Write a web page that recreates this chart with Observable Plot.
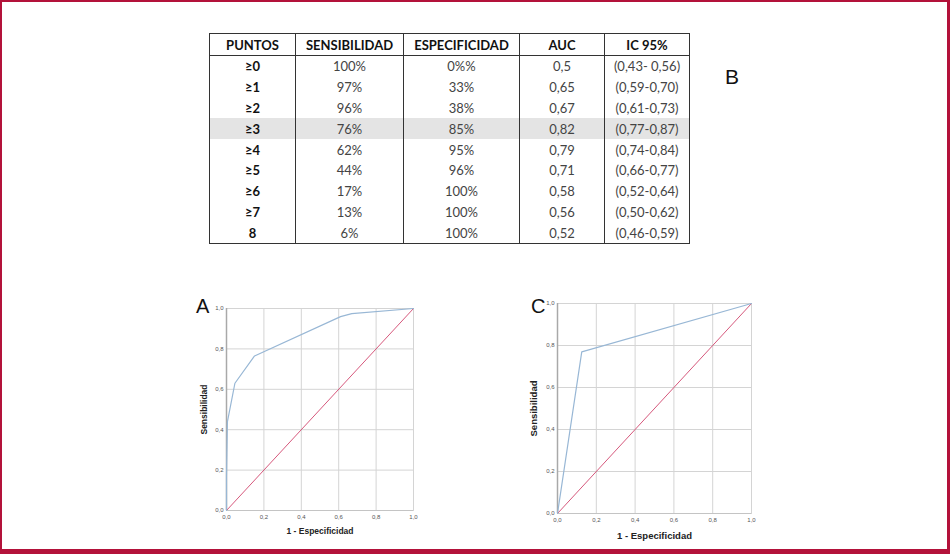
<!DOCTYPE html>
<html>
<head>
<meta charset="utf-8">
<script src="https://cdn.jsdelivr.net/npm/d3@7"></script>
<script src="https://cdn.jsdelivr.net/npm/@observablehq/plot@0.6"></script>
<style>
  html, body { margin: 0; padding: 0; background: #fff; }
  #fig { position: relative; width: 950px; height: 554px; overflow: hidden; background: #fff; }
  #edge { position: absolute; left: 0; top: 0; width: 950px; height: 554px; box-sizing: border-box;
          border: 2px solid #b3123a; border-bottom-width: 5px; border-right-width: 3px; pointer-events: none; }
  .panel { position: absolute; }
  .letter { position: absolute; font-family: "Liberation Sans", Arial, sans-serif; font-size: 20px; color: #111; line-height: 1; }
  table.score { position: absolute; left: 209px; top: 33px; border-collapse: collapse;
                font-family: Lato, "Open Sans", sans-serif; font-size: 13px; color: #444; }
  table.score th, table.score td { padding: 0; text-align: center; border-left: 1px solid #333; border-right: 1px solid #333; }
  table.score th { height: 21px; font-weight: 700; color: #111; border-top: 1px solid #333; border-bottom: 1px solid #333; }
  table.score td { height: 20.8px; }
  table.score tr:last-child td { border-bottom: 1px solid #333; }
  table.score td.pts { font-weight: 700; color: #111; }
  table.score tr.hl td { background: #e4e4e4; }
</style>
</head>
<body>
<div id="fig">
  <table class="score" id="score"></table>
  <div class="letter" style="left:725px; top:66px; font-size:21px;">B</div>
  <div class="panel" id="rocA" style="left:170px; top:290px;"></div>
  <div class="panel" id="rocC" style="left:500px; top:285px;"></div>
  <div class="letter" style="left:196px; top:296px;">A</div>
  <div class="letter" style="left:531px; top:296px;">C</div>
  <div id="edge"></div>
</div>
<script>
// Score cut-offs and their diagnostic performance
const columns = ["PUNTOS", "SENSIBILIDAD", "ESPECIFICIDAD", "AUC", "IC 95%"];
const columnWidths = [86, 108, 116, 85, 85];
const puntos = ["≥0", "≥1", "≥2", "≥3", "≥4", "≥5", "≥6", "≥7", "8"];
const sensibilidad = ["100%", "97%", "96%", "76%", "62%", "44%", "17%", "13%", "6%"];
const especificidad = ["0%%", "33%", "38%", "85%", "95%", "96%", "100%", "100%", "100%"];
const auc = ["0,5", "0,65", "0,67", "0,82", "0,79", "0,71", "0,58", "0,56", "0,52"];
const ic95 = ["(0,43- 0,56)", "(0,59-0,70)", "(0,61-0,73)", "(0,77-0,87)", "(0,74-0,84)",
              "(0,66-0,77)", "(0,52-0,64)", "(0,50-0,62)", "(0,46-0,59)"];
const highlighted = "≥3";

// ROC curve of the full score (A)
const fprA = [0, 0, 0, 0, 0.005, 0.045, 0.15, 0.61, 0.67, 1];
const tprA = [0, 0.06, 0.13, 0.17, 0.44, 0.63, 0.765, 0.96, 0.975, 1];
// ROC curve of the dichotomised score (C)
const fprC = [0, 0.125, 1];
const tprC = [0, 0.77, 1];
// Reference diagonal and axis ticks
const diag = [0, 1];
const ticks = [0, 0.2, 0.4, 0.6, 0.8, 1.0];

// Table
const table = d3.select("#score");
table.append("colgroup").selectAll("col").data(columnWidths).join("col").style("width", d => d + "px");
table.append("thead").append("tr").selectAll("th").data(columns).join("th").text(d => d);
const rows = puntos.map((p, i) => [p, sensibilidad[i], especificidad[i], auc[i], ic95[i]]);
table.append("tbody").selectAll("tr").data(rows).join("tr")
  .classed("hl", d => d[0] === highlighted)
  .selectAll("td").data(d => d).join("td")
  .classed("pts", (d, j) => j === 0)
  .text(d => d);

const fmt = d => d.toFixed(1).replace(".", ",");

function roc(fpr, tpr, opts) {
  const curve = fpr.map((x, i) => ({x, y: tpr[i]}));
  const ref = diag.map(v => ({x: v, y: v}));
  return Plot.plot({
    width: opts.width, height: opts.height,
    marginLeft: opts.ml, marginRight: opts.mr, marginTop: opts.mt, marginBottom: opts.mb,
    style: {fontFamily: "'Liberation Sans', Arial, sans-serif", background: "transparent", overflow: "visible"},
    x: {domain: [0, 1]},
    y: {domain: [0, 1]},
    marks: [
      Plot.gridX(ticks, {stroke: "#d4d4d4", strokeOpacity: 1}),
      Plot.gridY(ticks, {stroke: "#d4d4d4", strokeOpacity: 1}),
      Plot.frame({stroke: "#d4d4d4"}),
      Plot.ruleX([0], {stroke: "#a9a9a9", strokeWidth: 1.5}),
      Plot.ruleY([0], {stroke: "#c4c4c4"}),
      Plot.axisX(ticks, {tickSize: 0, tickPadding: 4, fontSize: 6, fill: "#555", tickFormat: fmt,
        label: "1 - Especificidad", labelAnchor: "center", labelArrow: "none", labelOffset: opts.xlo}),
      Plot.axisY(ticks, {tickSize: 0, tickPadding: 3, fontSize: 6, fill: "#555", tickFormat: fmt,
        label: "Sensibilidad", labelAnchor: "center", labelArrow: "none", labelOffset: opts.ylo}),
      Plot.line(ref, {x: "x", y: "y", stroke: "#d6587c", strokeWidth: 1}),
      Plot.line(curve, {x: "x", y: "y", stroke: "#98b7d5", strokeWidth: 1.2})
    ]
  });
}

function styleLabels(svg, size) {
  d3.select(svg).selectAll("g[aria-label='x-axis label'] text, g[aria-label='y-axis label'] text")
    .style("font-size", size + "px").style("font-weight", "700").style("fill", "#222");
  return svg;
}

document.getElementById("rocA").append(
  styleLabels(roc(fprA, tprA, {width: 260, height: 255, ml: 56, mr: 17, mt: 18, mb: 35, xlo: 23, ylo: 26}), 8.5));
document.getElementById("rocC").append(
  styleLabels(roc(fprC, tprC, {width: 270, height: 265, ml: 57, mr: 19, mt: 18, mb: 37, xlo: 25, ylo: 27}), 9.5));
</script>
</body>
</html>
